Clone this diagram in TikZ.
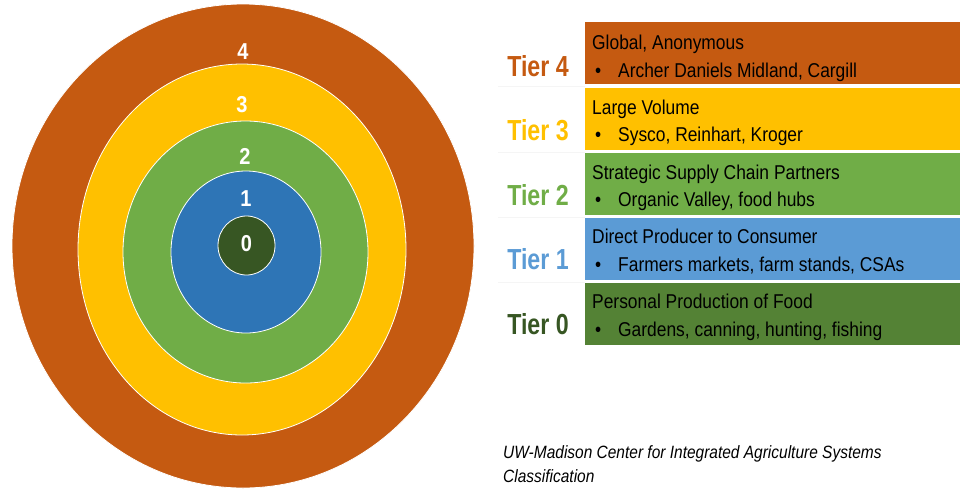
\documentclass[tikz,border=0pt]{standalone}
\usepackage{fontspec}
\setmainfont{Liberation Sans}
\newfontfamily\narrowfont[FakeStretch=0.87]{Liberation Sans}
\newfontfamily\tierfont[FakeStretch=0.8]{Liberation Sans}
\usetikzlibrary{shapes.geometric}

\definecolor{tierfour}{HTML}{C55A11}
\definecolor{tierthree}{HTML}{FFC000}
\definecolor{tiertwo}{HTML}{70AD47}
\definecolor{tierone}{HTML}{2E75B6}
\definecolor{tieronelight}{HTML}{5B9BD5}
\definecolor{tierzero}{HTML}{375623}
\definecolor{tierzerobox}{HTML}{548235}

\tikzset{
  ring/.style={ellipse, draw=white, line width=0.8pt, inner sep=0pt},
  ringnum/.style={text=white, inner sep=0pt, font=\narrowfont\bfseries\fontsize{23}{23}\selectfont},
  tierbox/.style={rectangle, anchor=north west, minimum width=380pt, minimum height=62pt, inner sep=0pt},
  tierlabel/.style={anchor=base, inner sep=0pt, font=\tierfont\bfseries\fontsize{29}{29}\selectfont},
  boxtext/.style={anchor=base west, inner sep=0pt, font=\narrowfont\fontsize{20}{24}\selectfont},
  rowline/.style={black!4, line width=0.8pt},
  note/.style={anchor=base west, inner sep=0pt, font=\narrowfont\itshape\fontsize{17.8}{20}\selectfont}
}

\begin{document}
\begin{tikzpicture}[x=1pt,y=1pt]
  \useasboundingbox (0,0) rectangle (960,-496);

  % the rings, outside in
  \node[ring, fill=tierfour,  minimum width=462, minimum height=484] (ring4) at (243,-246) {};
  \node[ring, fill=tierthree, minimum width=328, minimum height=371] (ring3) at (242,-249.5) {};
  \node[ring, fill=tiertwo,   minimum width=245, minimum height=262] (ring2) at (245.5,-252) {};
  \node[ring, fill=tierone,   minimum width=150, minimum height=162] (ring1) at (246,-252) {};
  \node[ring, fill=tierzero,  minimum width=57,  minimum height=59]  (ring0) at (246.5,-245.5) {};

  \node[ringnum] (num4) at (243,-52) {4};
  \node[ringnum] (num3) at (242,-105) {3};
  \node[ringnum] (num2) at (245,-156) {2};
  \node[ringnum] (num1) at (246,-199) {1};
  \node[ringnum] (num0) at (246.5,-244) {0};

  % table of tiers
  \node[tierbox, fill=tierfour]     (box4) at (585,-22) {};
  \node[tierbox, fill=tierthree]    (box3) at (585,-88) {};
  \node[tierbox, fill=tiertwo]      (box2) at (585,-153) {};
  \node[tierbox, fill=tieronelight] (box1) at (585,-218) {};
  \node[tierbox, fill=tierzerobox]  (box0) at (585,-283) {};

  \foreach \b in {4,3,2,1}
    \draw[rowline] ([shift={(-87,-1.5)}]box\b.south west) -- ([yshift=-1.5]box\b.south west);

  \node[tierlabel, text=tierfour]     (tier4) at (538,-76)  {Tier 4};
  \node[tierlabel, text=tierthree]    (tier3) at (538,-140) {Tier 3};
  \node[tierlabel, text=tiertwo]      (tier2) at (538,-205) {Tier 2};
  \node[tierlabel, text=tieronelight] (tier1) at (538,-269) {Tier 1};
  \node[tierlabel, text=tierzero]     (tier0) at (538,-334) {Tier 0};

  \node[boxtext] (head4) at ([shift={(7,-27)}]box4.north west) {Global, Anonymous};
  \node[boxtext] (item4) at ([shift={(10,-55)}]box4.north west) {\makebox[23pt][l]{\textbullet}Archer Daniels Midland, Cargill};
  \node[boxtext] (head3) at ([shift={(7,-26)}]box3.north west) {Large Volume};
  \node[boxtext] (item3) at ([shift={(10,-53.5)}]box3.north west) {\makebox[23pt][l]{\textbullet}Sysco, Reinhart, Kroger};
  \node[boxtext] (head2) at ([shift={(7,-26)}]box2.north west) {Strategic Supply Chain Partners};
  \node[boxtext] (item2) at ([shift={(10,-53.5)}]box2.north west) {\makebox[23pt][l]{\textbullet}Organic Valley, food hubs};
  \node[boxtext] (head1) at ([shift={(7,-25.5)}]box1.north west) {Direct Producer to Consumer};
  \node[boxtext] (item1) at ([shift={(10,-53)}]box1.north west) {\makebox[23pt][l]{\textbullet}Farmers markets, farm stands, CSAs};
  \node[boxtext] (head0) at ([shift={(7,-25.5)}]box0.north west) {Personal Production of Food};
  \node[boxtext] (item0) at ([shift={(10,-53)}]box0.north west) {\makebox[23pt][l]{\textbullet}Gardens, canning, hunting, fishing};

  \node[note] (note1) at (503,-458) {UW-Madison Center for Integrated Agriculture Systems};
  \node[note] (note2) at (503,-482) {Classification};
\end{tikzpicture}
\end{document}
